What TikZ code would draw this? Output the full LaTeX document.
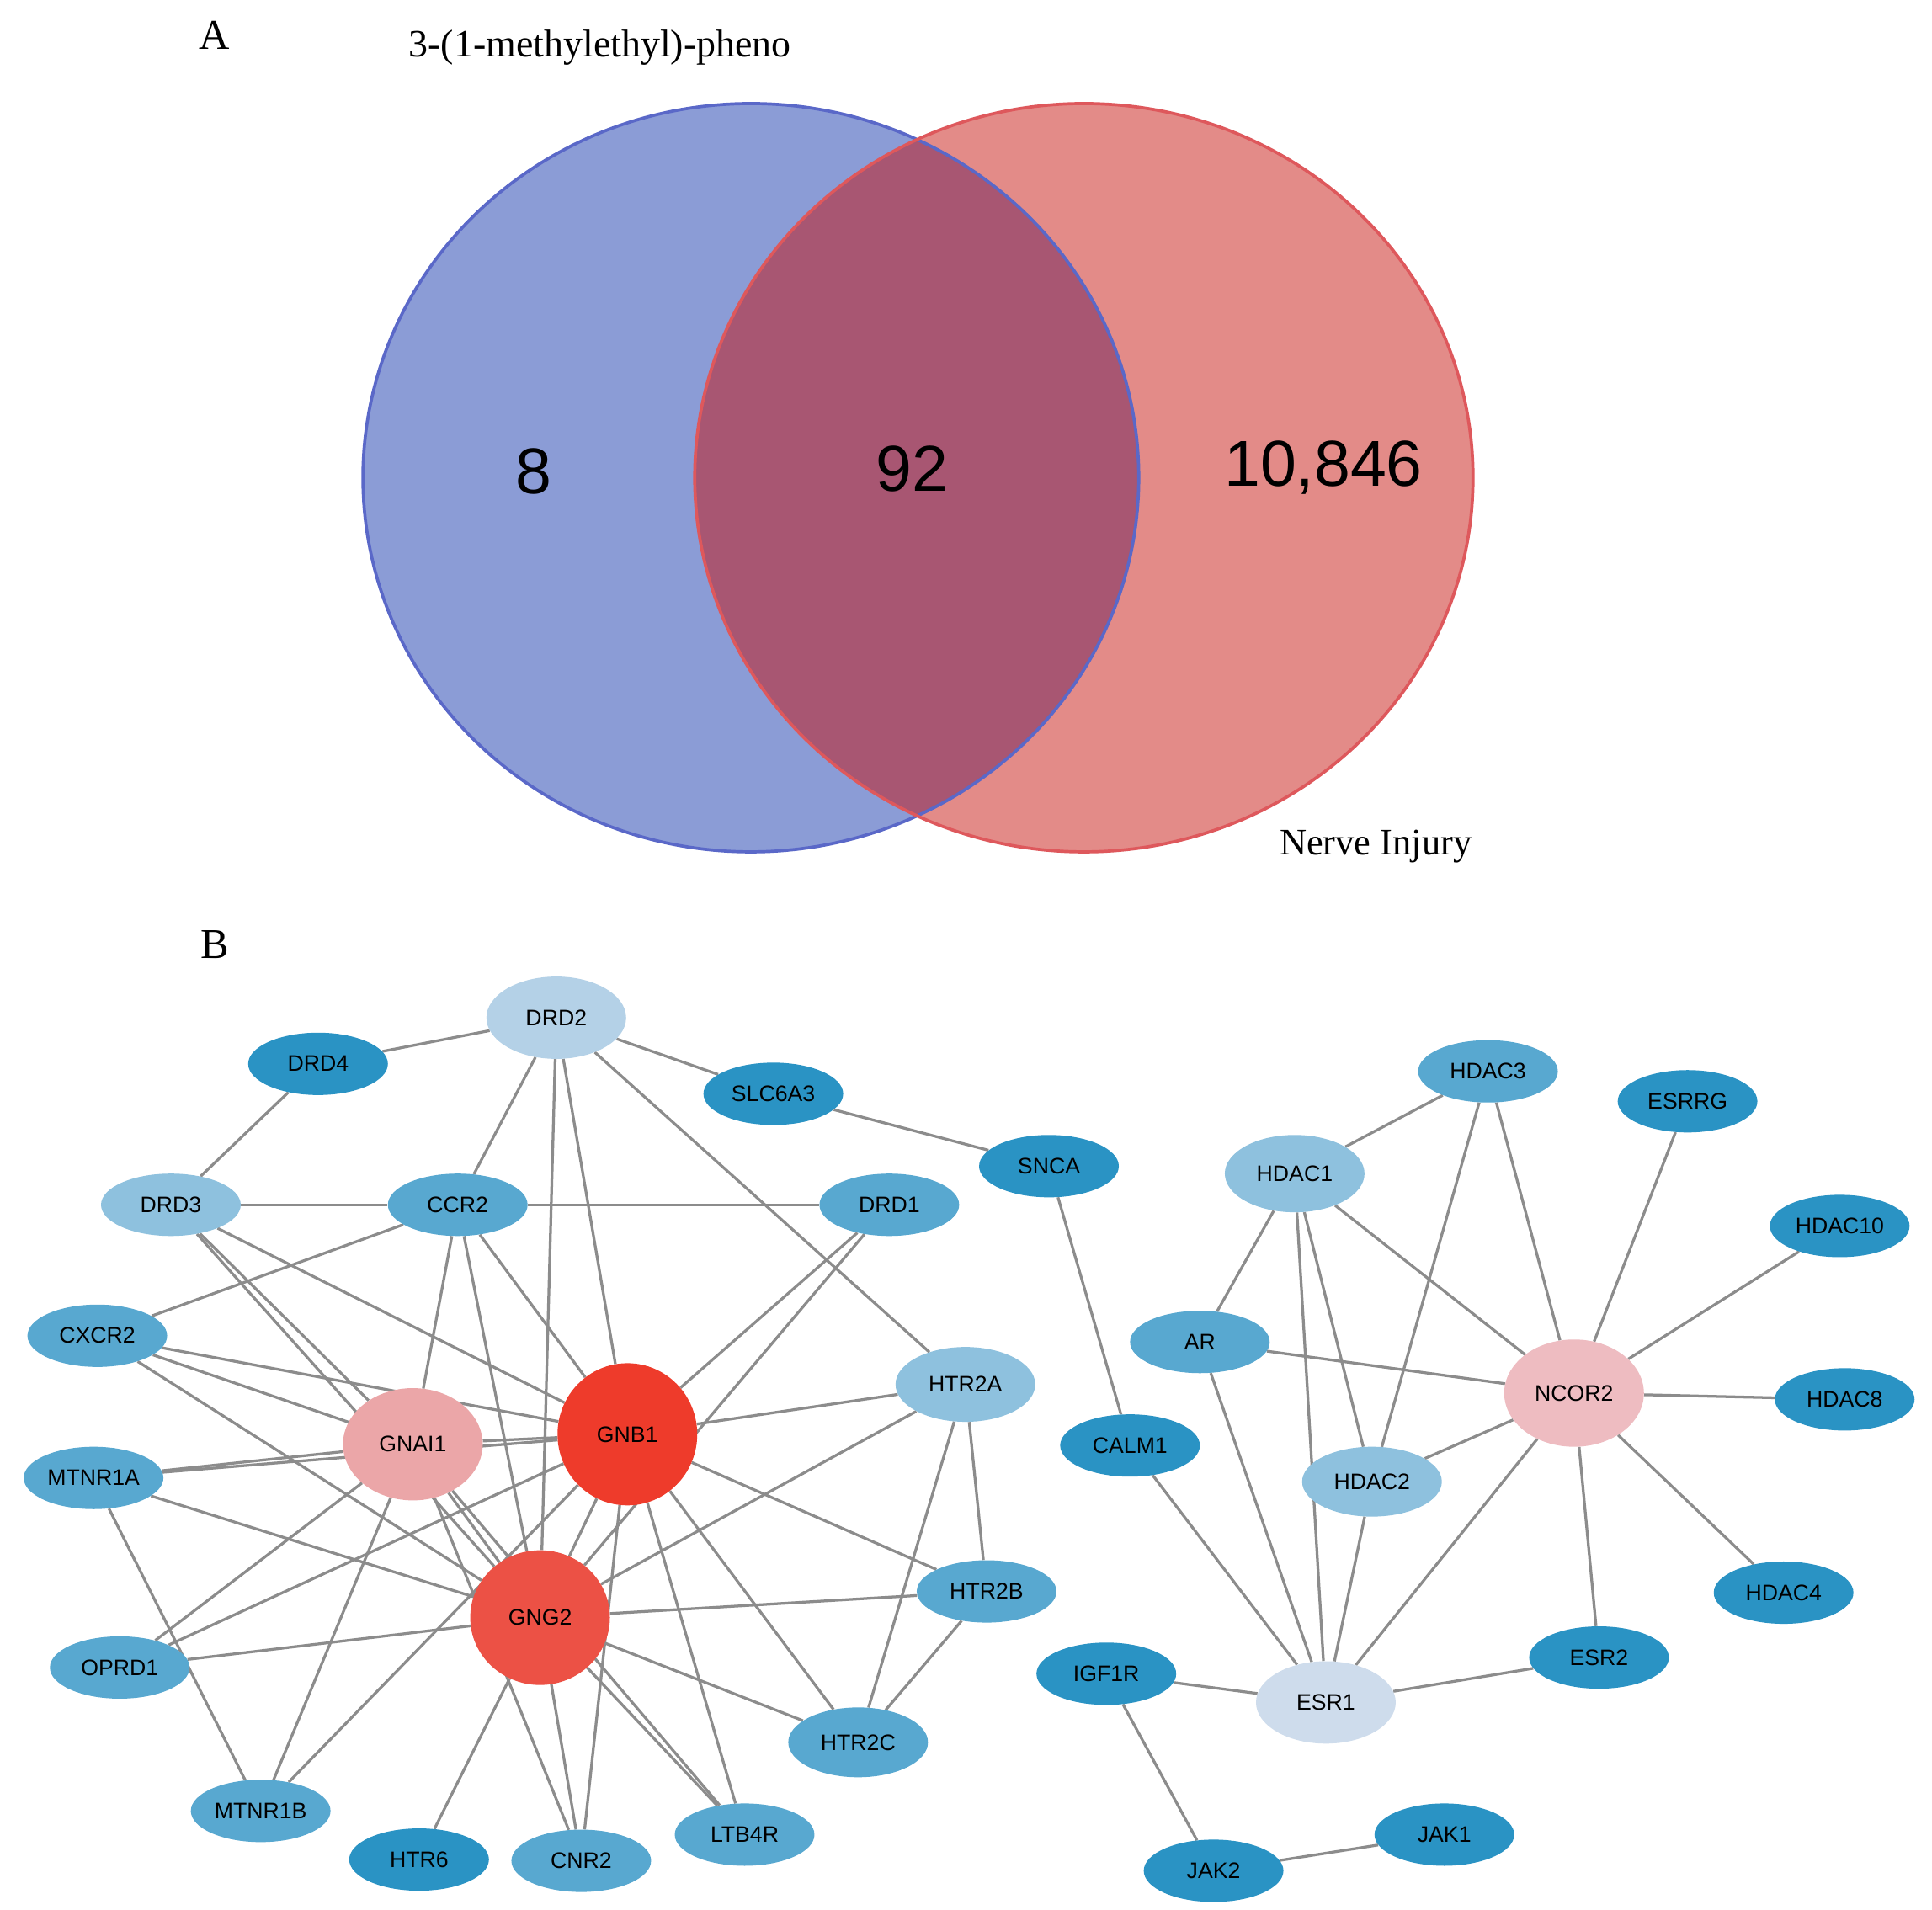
\documentclass[tikz,border=0pt]{standalone}
\usepackage{fontspec}
\setmainfont{Liberation Serif}
\newfontfamily\sansf{Liberation Sans}
\usetikzlibrary{shapes.geometric,backgrounds}
\begin{document}
\begin{tikzpicture}[x=1pt,y=-1pt,
  g/.style={ellipse,minimum width=112pt,minimum height=50pt,inner sep=0pt,font=\sansf\fontsize{18}{18}\selectfont},
  d/.style={g,fill=c1},m/.style={g,fill=c2},l/.style={g,fill=c3},
  e/.style={draw={rgb,255:red,140;green,140;blue,140},line width=2.2pt}]
\definecolor{c1}{HTML}{2A93C4}\definecolor{c2}{HTML}{58A8D0}\definecolor{c3}{HTML}{8EC1DE}
\definecolor{c4}{HTML}{B4D1E7}\definecolor{c5}{HTML}{CEDCEC}
\useasboundingbox (0,0) rectangle (1549,1531);
% Venn
\fill[fill={rgb,255:red,139;green,156;blue,214}] (602,383) ellipse [x radius=311,y radius=300];
\fill[fill={rgb,255:red,227;green,139;blue,136}] (869,383) ellipse [x radius=312,y radius=300];
\begin{scope}
\clip (602,383) ellipse [x radius=311,y radius=300];
\fill[fill={rgb,255:red,168;green,86;blue,114}] (869,383) ellipse [x radius=312,y radius=300];
\end{scope}
\draw[line width=2.5pt,draw={rgb,255:red,90;green,104;blue,200}] (602,383) ellipse [x radius=311,y radius=300];
\draw[line width=2.5pt,draw={rgb,255:red,222;green,88;blue,92}] (869,383) ellipse [x radius=312,y radius=300];
\node[font=\sansf\fontsize{52}{52}\selectfont] (n8) at (428,378) {8};
\node[font=\sansf\fontsize{52}{52}\selectfont] (n92) at (731,376) {92};
\node[font=\sansf\fontsize{52}{52}\selectfont] (n3) at (1061,375) {10,846};
\node[font=\fontsize{34}{34}\selectfont] (lA) at (172,28) {A};
\node[font=\fontsize{31}{31}\selectfont] (t1) at (481,38) {3-(1-methylethyl)-pheno};
\node[font=\fontsize{30}{30}\selectfont] (t2) at (1103,679) {Nerve Injury};
\node[font=\fontsize{34}{34}\selectfont] (lB) at (172,757) {B};
% nodes
\node[g,fill=c4,minimum height=66pt] (DRD2) at (446,816) {DRD2};
\node[d] (DRD4) at (255,853) {DRD4};
\node[d] (SLC6A3) at (620,877) {SLC6A3};
\node[d] (SNCA) at (841,935) {SNCA};
\node[l] (DRD3) at (137,966) {DRD3};
\node[m] (CCR2) at (367,966) {CCR2};
\node[m] (DRD1) at (713,966) {DRD1};
\node[m] (CXCR2) at (78,1071) {CXCR2};
\node[l,minimum height=60pt] (HTR2A) at (774,1110) {HTR2A};
\node[m] (MTNR1A) at (75,1185) {MTNR1A};
\node[m] (HTR2B) at (791,1276) {HTR2B};
\node[m] (OPRD1) at (96,1337) {OPRD1};
\node[m,minimum height=56pt] (HTR2C) at (688,1397) {HTR2C};
\node[m] (MTNR1B) at (209,1452) {MTNR1B};
\node[d] (HTR6) at (336,1491) {HTR6};
\node[m] (CNR2) at (466,1492) {CNR2};
\node[m] (LTB4R) at (597,1471) {LTB4R};
\node[g,fill={rgb,255:red,235;green,166;blue,168},minimum height=90pt] (GNAI1) at (331,1158) {GNAI1};
\node[g,fill={rgb,255:red,238;green,59;blue,43},minimum height=114pt] (GNB1) at (503,1150) {GNB1};
\node[g,fill={rgb,255:red,236;green,81;blue,69},minimum height=108pt] (GNG2) at (433,1297) {GNG2};
\node[m] (HDAC3) at (1193,859) {HDAC3};
\node[d] (ESRRG) at (1353,883) {ESRRG};
\node[l,minimum height=62pt] (HDAC1) at (1038,941) {HDAC1};
\node[d] (HDAC10) at (1475,983) {HDAC10};
\node[m] (AR) at (962,1076) {AR};
\node[g,fill={rgb,255:red,238;green,188;blue,193},minimum height=86pt] (NCOR2) at (1262,1117) {NCOR2};
\node[d] (HDAC8) at (1479,1122) {HDAC8};
\node[d] (CALM1) at (906,1159) {CALM1};
\node[l,minimum height=56pt] (HDAC2) at (1100,1188) {HDAC2};
\node[d] (HDAC4) at (1430,1277) {HDAC4};
\node[d] (ESR2) at (1282,1329) {ESR2};
\node[d] (IGF1R) at (887,1342) {IGF1R};
\node[g,fill=c5,minimum height=66pt] (ESR1) at (1063,1365) {ESR1};
\node[d] (JAK1) at (1158,1471) {JAK1};
\node[d] (JAK2) at (973,1500) {JAK2};
% edges
\begin{scope}[on background layer]
\fill[white] (0,0) rectangle (1549,1531);
\foreach \a/\b in {DRD2/DRD4,DRD2/SLC6A3,SLC6A3/SNCA,DRD4/DRD3,DRD2/CCR2,DRD2/GNG2,DRD2/GNB1,DRD2/HTR2A,
 DRD3/CCR2,CCR2/DRD1,DRD3/GNAI1,DRD3/GNG2,DRD3/GNB1,CCR2/CXCR2,CCR2/GNAI1,CCR2/GNG2,CCR2/GNB1,
 DRD1/GNB1,DRD1/GNG2,CXCR2/GNAI1,CXCR2/GNB1,CXCR2/GNG2,HTR2A/GNB1,HTR2A/GNG2,HTR2A/HTR2B,HTR2A/HTR2C,
 MTNR1A/GNAI1,MTNR1A/GNB1,MTNR1A/GNG2,MTNR1A/MTNR1B,GNAI1/GNB1,GNAI1/GNG2,GNAI1/OPRD1,GNAI1/MTNR1B,GNAI1/LTB4R,
 GNB1/OPRD1,GNB1/MTNR1B,GNB1/GNG2,GNB1/HTR2B,GNB1/HTR2C,GNB1/LTB4R,GNB1/CNR2,
 GNG2/OPRD1,GNG2/HTR2B,GNG2/HTR2C,GNG2/HTR6,GNG2/CNR2,GNG2/LTB4R,HTR2B/HTR2C,GNAI1/CNR2,
 HDAC3/HDAC1,HDAC3/HDAC2,HDAC3/NCOR2,ESRRG/NCOR2,HDAC10/NCOR2,HDAC8/NCOR2,HDAC4/NCOR2,ESR2/NCOR2,ESR1/NCOR2,
 HDAC2/NCOR2,AR/NCOR2,HDAC1/NCOR2,HDAC1/AR,HDAC1/HDAC2,HDAC1/ESR1,AR/ESR1,HDAC2/ESR1,CALM1/ESR1,SNCA/CALM1,
 IGF1R/ESR1,ESR1/ESR2,IGF1R/JAK2,JAK2/JAK1}
 \draw[e] (\a) -- (\b);
\end{scope}
\end{tikzpicture}
\end{document}
